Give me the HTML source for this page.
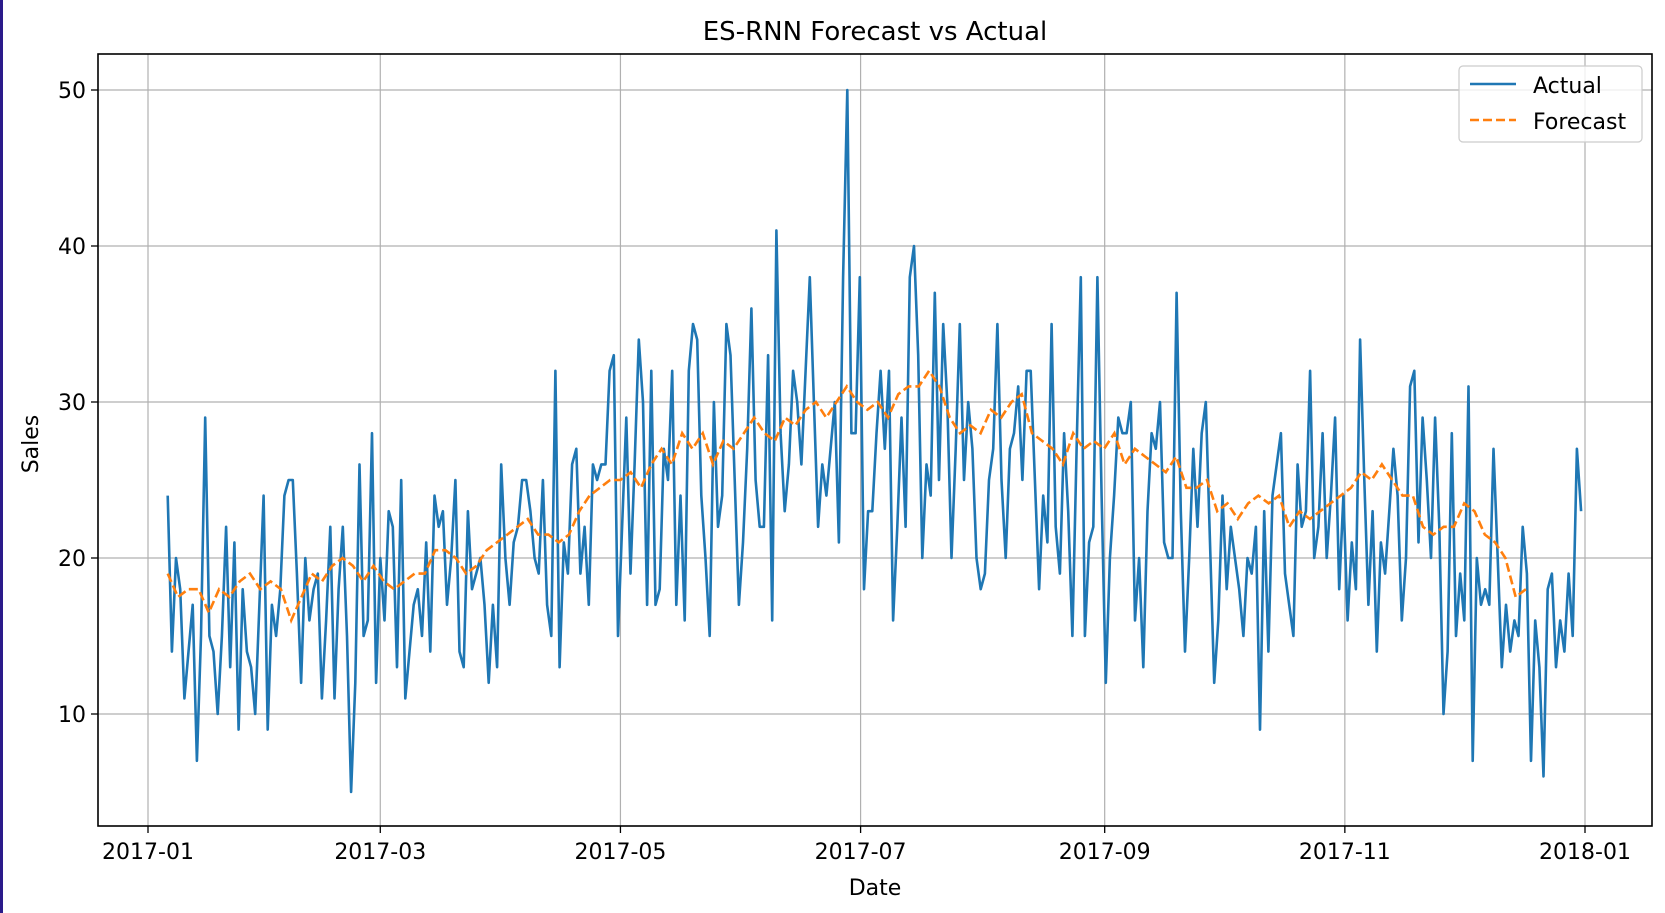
<!DOCTYPE html>
<html><head><meta charset="utf-8"><style>
html,body{margin:0;padding:0;background:#fff;}
svg{display:block;font-family:"DejaVu Sans","Liberation Sans",sans-serif;}
</style></head><body>
<svg id="chart" width="1665" height="913" viewBox="0 0 1665 913" xmlns="http://www.w3.org/2000/svg">
<rect x="0" y="0" width="1665" height="913" fill="#fff"/>
<rect x="0" y="0" width="3" height="913" fill="#2a1a8a"/>
<text x="875" y="40" font-size="26" text-anchor="middle" fill="#000">ES-RNN Forecast vs Actual</text>
<g id="grid"></g>
<g id="series"></g>
<rect x="98" y="54" width="1554" height="772" fill="none" stroke="#000" stroke-width="1.6"/>
<g id="ticks"></g>
<text x="875" y="895" font-size="22" text-anchor="middle" fill="#000">Date</text>
<text x="38" y="444" font-size="22" text-anchor="middle" fill="#000" transform="rotate(-90 38 444)">Sales</text>
<g>
<rect x="1459" y="66" width="183" height="76" rx="4" fill="#fff" fill-opacity="0.8" stroke="#ccc" stroke-width="1.2"/>
<line x1="1470" y1="84" x2="1516" y2="84" stroke="#1f77b4" stroke-width="2.6"/>
<text x="1533" y="93" font-size="22" fill="#000">Actual</text>
<line x1="1470" y1="120" x2="1516" y2="120" stroke="#ff7f0e" stroke-width="2.6" stroke-dasharray="9,4"/>
<text x="1533" y="129" font-size="22" fill="#000">Forecast</text>
</g>
</svg>
<script>
const actual=[24,14,20,18,11,14,17,7,15,29,15,14,10,15,22,13,21,9,18,14,13,10,17,24,9,17,15,18,24,25,25,
19,12,20,16,18,19,11,16,22,11,18,22,15,5,12,26,15,16,28,12,20,16,23,22,13,25,11,14,17,18,15,21,14,24,22,23,17,20,25,14,13,23,18,19,20,17,12,17,13,26,20,17,21,22,25,25,23,20,19,25,17,15,32,13,21,19,26,27,19,22,17,26,25,26,26,32,33,15,22,29,19,26,34,30,17,32,17,18,27,25,32,17,24,16,32,35,34,24,20,15,30,22,24,35,33,25,17,21,27,36,25,22,22,33,16,41,28,23,26,32,30,26,32,38,30,22,26,24,27,30,21,38,50,28,28,38,18,23,23,28,32,27,32,16,22,29,22,38,40,33,20,26,24,37,25,35,30,20,27,35,25,30,27,20,18,19,25,27,35,25,20,27,28,31,25,32,32,25,18,24,21,35,22,19,28,23,15,27,38,15,21,22,38,24,12,20,24,29,28,28,30,16,20,13,23,28,27,30,21,20,20,37,23,14,20,27,22,28,30,21,12,16,24,18,22,20,18,15,20,19,22,9,23,14,24,26,28,19,17,15,26,22,23,32,20,22,28,20,24,29,18,24,16,21,18,34,25,17,23,14,21,19,23,27,24,16,20,31,32,21,29,25,20,29,22,10,14,28,15,19,16,31,7,20,17,18,17,27,20,13,17,14,16,15,22,19,7,16,13,6,18,19,13,16,14,19,15,27,23];
const forecast=[19,17.5,18,18,16.5,18,17.5,18.5,19,18,18.5,18,16,17.5,19,18.5,19.5,20,19.5,18.5,19.5,18.5,18,18.5,19,19,20.5,20.5,20,19,19.5,20.5,21,21.5,22,22.5,21.5,21.5,21,21.5,23,24,24.5,25,25,25.5,24.5,26,27,26,28,27,28,26,27.5,27,28,29,28,27.5,29,28.5,29.5,30,29,30,31,30,29.5,30,29,30.5,31,31,32,31,29,28,28.5,28,29.5,29,30,30.5,28,27.5,27,26,28,27,27.5,27,28,26,27,26.5,26,25.5,26.5,24.5,24.5,25,23,23.5,22.5,23.5,24,23.5,24,22,23,22.5,23,23.5,24,24.5,25.5,25,26,25,24,24,22,21.5,22,22,23.5,23,21.5,21,20,17.5,18];
const yTicks=[10,20,30,40,50];
const xTickLabels=["2017-01","2017-03","2017-05","2017-07","2017-09","2017-11","2018-01"];
const xTickDays=[0,59,120,181,243,304,365];
const actualStartDay=5, actualEndDay=364, forecastStartDay=5, forecastEndDay=350;

const L=98,R=1652,T=54,B=826;
const day0=148, pxPerDay=(1585-148)/365;
const xs=d=>day0+d*pxPerDay;
const ys=v=>870-v*15.6;
const NS="http://www.w3.org/2000/svg";
function mk(tag,attrs,parent){const e=document.createElementNS(NS,tag);for(const k in attrs)e.setAttribute(k,attrs[k]);parent.appendChild(e);return e;}
const grid=document.getElementById('grid'),ticks=document.getElementById('ticks'),series=document.getElementById('series');
xTickDays.forEach((d,i)=>{
  const x=xs(d);
  const g=mk('line',{x1:x,y1:T,x2:x,y2:B,stroke:'#b0b0b0','stroke-width':1.2},grid);
  
  
  const t=mk('line',{x1:x,y1:B,x2:x,y2:B+7,stroke:'#000','stroke-width':1.3},ticks);
  
  
  const tx=mk('text',{x:x,y:B+33,'font-size':22,'text-anchor':'middle',fill:'#000'},ticks);
  tx.textContent=xTickLabels[i];
  
  
});
yTicks.forEach(v=>{
  const y=ys(v);
  const g=mk('line',{x1:L,y1:y,x2:R,y2:y,stroke:'#b0b0b0','stroke-width':1.2},grid);
  
  
  const t=mk('line',{x1:L-7,y1:y,x2:L,y2:y,stroke:'#000','stroke-width':1.3},ticks);
  
  
  const tx=mk('text',{x:L-12,y:y+8,'font-size':22,'text-anchor':'end',fill:'#000'},ticks);
  tx.textContent=v;
  
  
});
const aStep=(actualEndDay-actualStartDay)/(actual.length-1);
const ap=actual.map((v,i)=>xs(actualStartDay+i*aStep).toFixed(1)+','+ys(v).toFixed(1)).join(' ');
const al=mk('polyline',{points:ap,fill:'none',stroke:'#1f77b4','stroke-width':2.6,'stroke-linejoin':'round'},series);


const fStep=(forecastEndDay-forecastStartDay)/(forecast.length-1);
const fp=forecast.map((v,i)=>xs(forecastStartDay+i*fStep).toFixed(1)+','+ys(v).toFixed(1)).join(' ');
const fl=mk('polyline',{points:fp,fill:'none',stroke:'#ff7f0e','stroke-width':2.6,'stroke-dasharray':'9,4'},series);


</script>
</body></html>
